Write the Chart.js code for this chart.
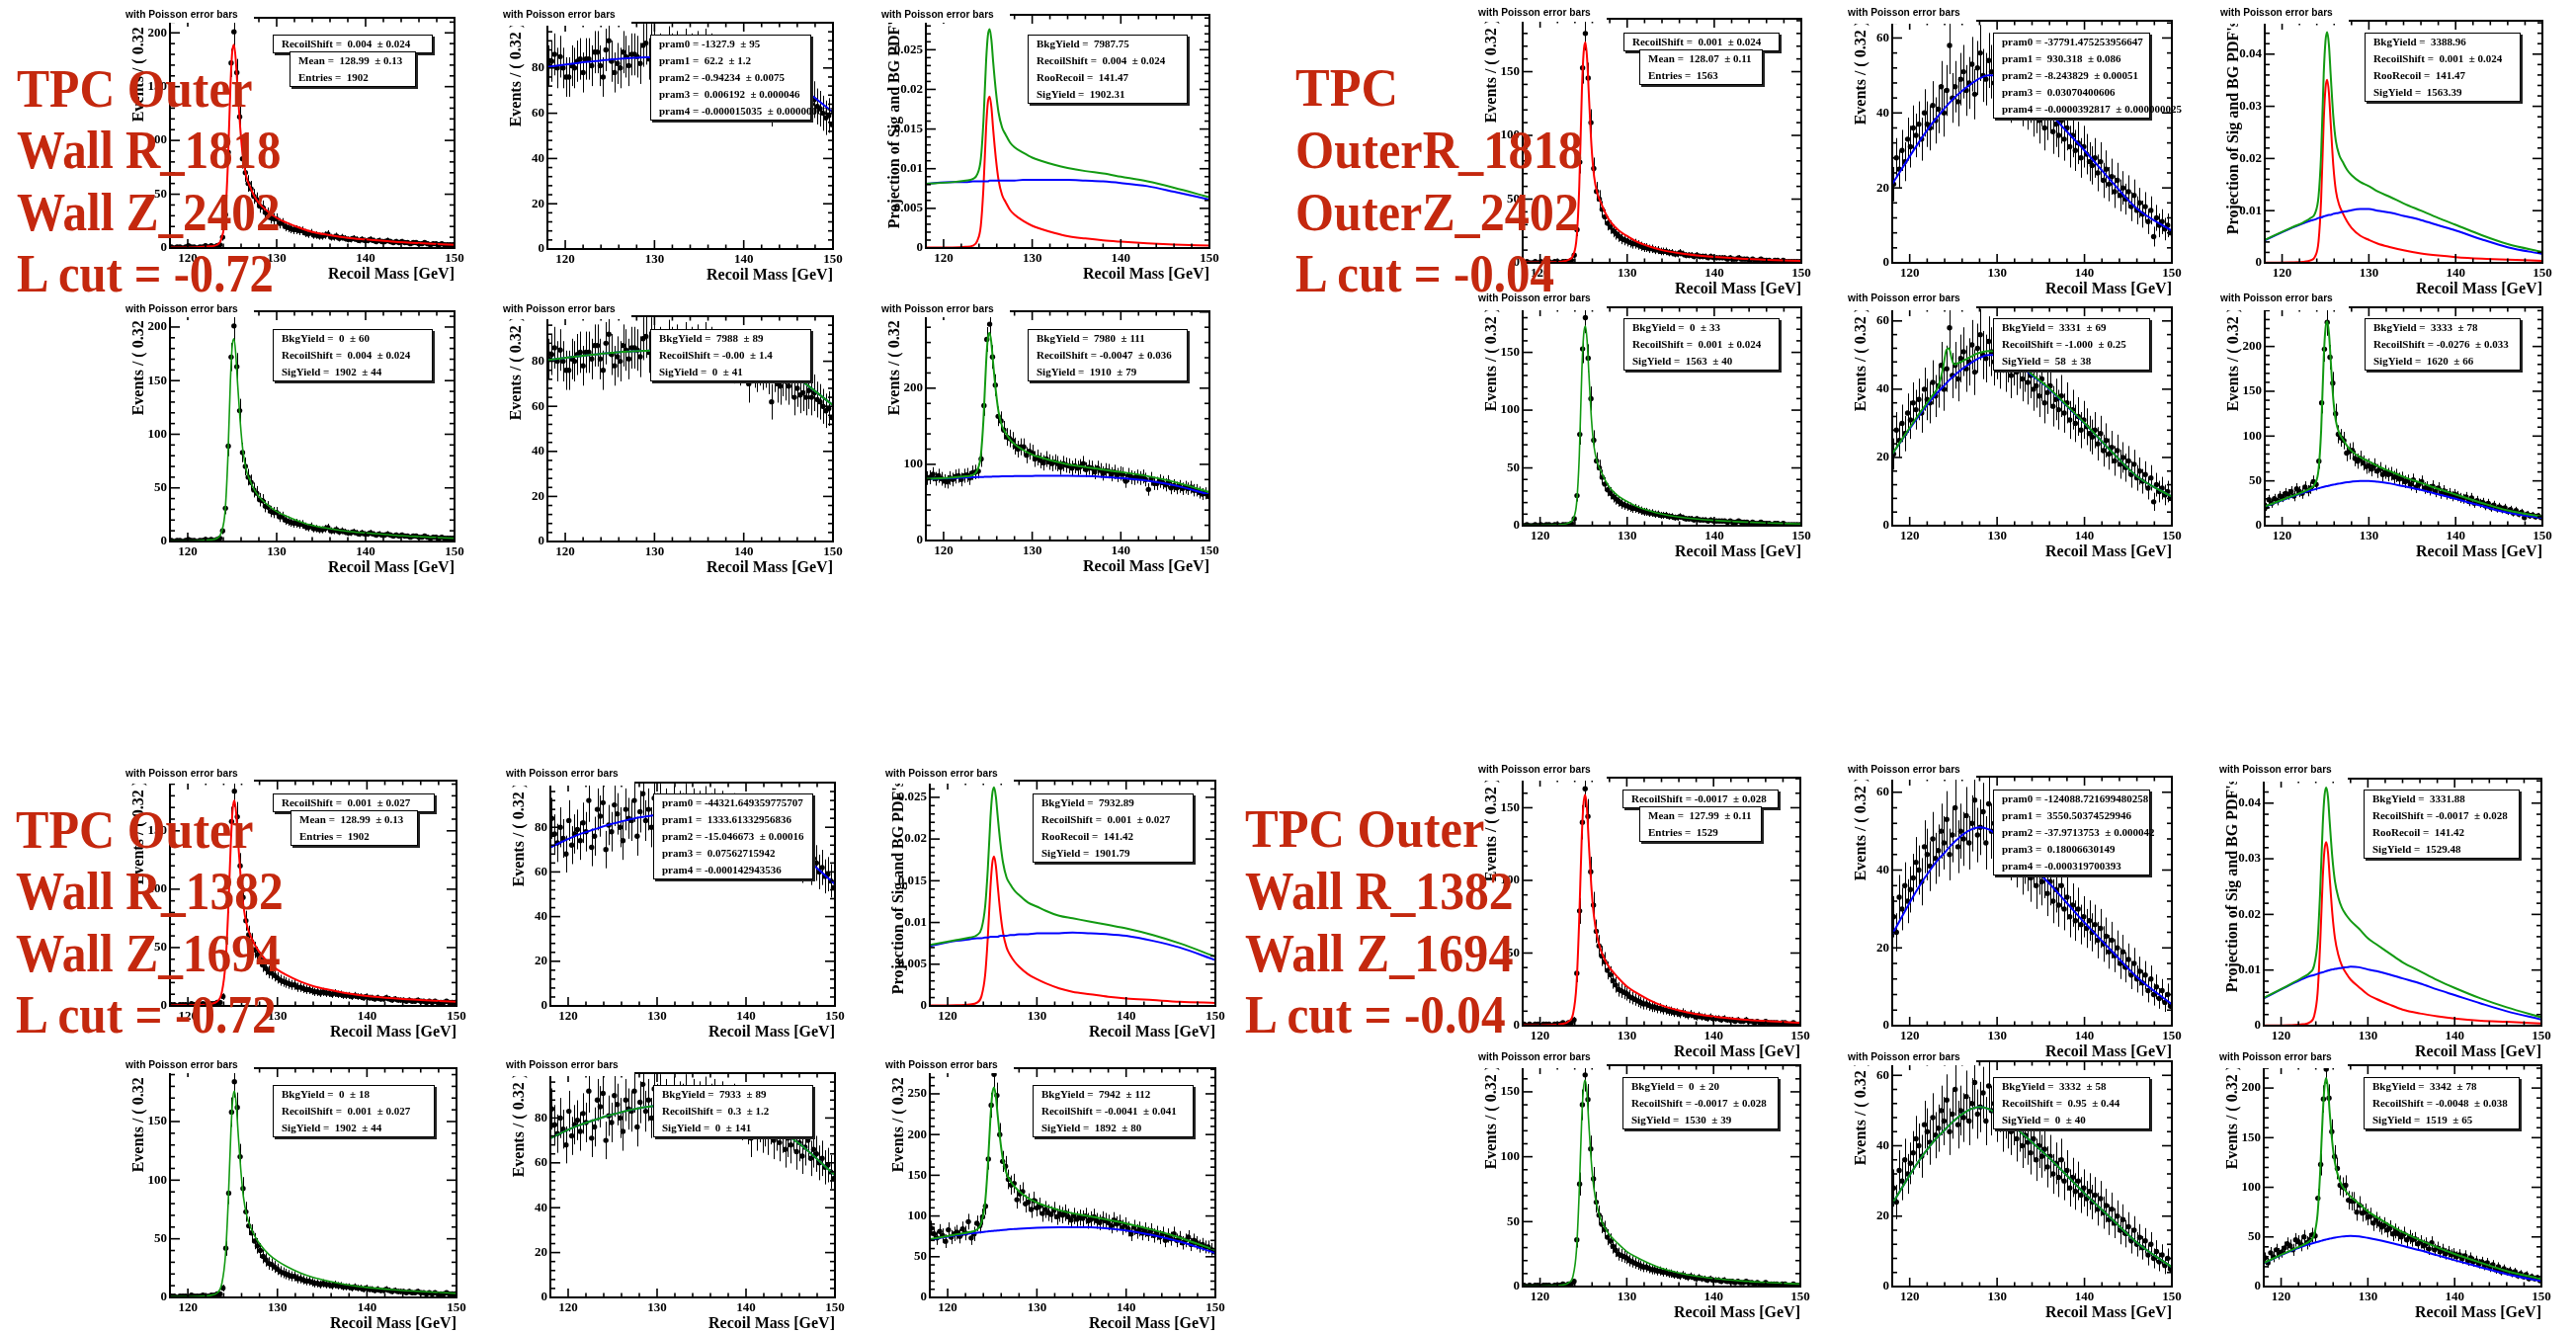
<!DOCTYPE html>
<html><head><meta charset="utf-8">
<script src="https://cdn.jsdelivr.net/npm/chart.js@4.4.1/dist/chart.umd.min.js"></script>
<style>
  body{margin:0;background:#fff;width:2607px;height:1349px;overflow:hidden;position:relative}
  canvas.pad{position:absolute}
  .ttl{position:absolute;background:#fff;font:bold 10.2px "Liberation Sans",Arial,sans-serif;color:#000;white-space:nowrap}
  .ttl span{position:absolute;left:0;top:0;line-height:22px}
  .box{position:absolute;background:#fff;border:1px solid #000;box-shadow:2px 2px 0 #222;font:bold 11px "Liberation Serif",serif;color:#000;white-space:pre}
  .box div{height:17px;line-height:17px;padding-left:8px}
  .big{position:absolute;color:#c4280e;font:bold 54px "Liberation Serif",serif;line-height:54px;white-space:nowrap;transform-origin:0 0}
</style></head><body>
<script>
// ---- binning / axes ----
const BIN_LO = 118, BIN_W = 0.32;
const X_MIN = 118, X_MAX = 150;
const X_LABELS = [120, 130, 140, 150];
// x grid used for all fitted curves
const SX = [118,121,122.5,123.3,123.8,124.2,124.5,124.8,125.0,125.2,125.4,125.6,125.9,126.2,126.6,127,127.5,128,129,130,131,132.5,134,136,138,140,143,146,150];
const ZX = [118, 150], ZY = [0, 0];

// ---- TPC Outer Wall R_1818 / Z_2402, L cut -0.72 ----
const SIG1 = [1,0,1,1,0,1,2,1,1,0,1,1,2,1,2,1, 2,3,10,31, 89,172,201,163,122,83,
  70,60,55,48,45,39,38,33,32,28,27, 27,23,23,20,19,18,17,17,16,16,14,13,14,12,12,11,
  11,12,13,10,10,11,9,10,9,8,8,9,8,7,8,7,7,8,7,6,7,6,6,7,6,5,6,5,6,5,5,4,5,5,4,4,5,4,3,4,4,3,4,3,3,3,3];
const BKG1 = [81,83,86,80,85,80,76,76,81,80,83,84,78,84,84,81,87,87,81,76,88,92,83,78,82,80,87,85,81,86,86,85,82,90,91,84,90,
  88,84,86,85,83,89,86,84,87,85,82,88,85,86,83,87,84,85,88,83,86,84,81,85,83,80,84,82,79,83,78,81,80,70,
  79,77,75,78,76,77,74,62,75,70,69,73,71,69,72,64,68,65,66,64,67,64,66,63,62,60,58,59,55];
const SFIT1 = [0.5,0.7,1.5,3,9,28,75,150,182,189,175,148,112,85,66,57,48,42,34,28,24,19,15,12,9.5,8,6,4.5,3];
const BFIT1 = [80.5,82,82.7,83,83.2,83.4,83.5,83.6,83.7,83.8,83.8,83.9,84,84.1,84.2,84.3,84.4,84.5,84.7,84.8,84.9,85,85,84.5,83.5,82,78.5,72.5,60.5];
const TFIT1 = [81,82.7,84.2,86,92.2,111.4,158.5,233.6,265.7,272.8,258.8,231.9,196,169.1,150.2,141.3,132.4,126.5,118.7,112.8,108.9,104,100,96.5,93,90,84.5,77,63.5];
const PDFR1 = [0.00005,0.00007,0.00015,0.0003,0.0009,0.0028,0.0076,0.0152,0.0184,0.0191,0.0177,0.0149,0.0113,0.0086,0.0067,0.0058,0.0048,0.0042,0.0034,0.0028,0.0024,0.0019,0.0015,0.0012,0.00096,0.0008,0.0006,0.00045,0.0003];
const PDFB1 = [0.0081,0.0083,0.0083,0.0084,0.0084,0.0084,0.0084,0.0084,0.0084,0.0085,0.0085,0.0085,0.0085,0.0085,0.0085,0.0085,0.0085,0.0085,0.0086,0.0086,0.0086,0.0086,0.0086,0.0085,0.0084,0.0082,0.0078,0.0071,0.0061];
const PDFG1 = [0.0081,0.0083,0.0085,0.0087,0.0093,0.0112,0.016,0.0236,0.0268,0.0276,0.0262,0.0234,0.0198,0.0171,0.0152,0.0143,0.0133,0.0127,0.012,0.0114,0.011,0.0105,0.0101,0.0097,0.0094,0.009,0.0084,0.0076,0.0064];

// ---- TPC OuterR_1818 / OuterZ_2402, L cut -0.04 ----
const SIG2 = [0,1,0,0,1,0,1,0,1,1,0,1,1,0,1,1, 1,2,6,26, 79,153,180,145,110,74,
  56,50,42,36,31,28,25,23,21,19,18, 17,16,15,15,14,13,12,12,11,11,10,10,9,9,9,8,
  8,7,7,8,7,6,6,6,5,6,5,5,5,4,5,4,4,4,4,4,3,4,3,3,4,3,3,3,2,3,2,2,3,2,2,2,1,2,2,1,2,1,1,1,1,1,1];
const BKG2 = [21,28,25,30,27,33,31,36,34,37,33,40,37,36,42,38,41,47,40,46,58,44,47,43,49,51,46,48,53,45,52,56,50,49,54,51,48,
  50,47,52,46,49,44,48,45,47,43,46,42,44,40,41,38,43,36,39,41,35,37,34,38,33,36,31,34,30,32,28,31,29,27,
  26,28,24,27,22,25,21,23,19,22,18,20,17,19,15,18,14,16,13,15,11,14,7,12,10,11,9,10,8];
const SFIT2 = [0.3,0.5,1,2.5,6,20,60,135,165,173,160,132,92,68,54,47,39,33,25.5,21,17,13,10,7.5,5.8,4.6,3.3,2.4,1.5];
const BFIT2 = [21,32,37,39.3,40.7,41.8,42.6,43.3,43.8,44.2,44.7,45.1,45.7,46.3,47,47.7,48.5,49.2,50,50,49,47,44,40,35,30,22,14.5,8.5];
const GFIT2 = [21,32.5,37.8,41,46,51.5,52,49,47.5,47.3,47.5,47.7,48,48.4,49,49.5,50.2,50.7,51.2,51,49.7,47.5,44.3,40.2,35.2,30.1,22,14.5,8.5];
const TFIT2 = [21.3,32.5,38,41.9,46.9,62.5,106,188,220,228,215,185,141,116.7,103,96.4,88.9,83.4,76.4,71.8,66.6,60.5,54.4,47.8,41,34.8,25.4,17,10];
const PDFR2 = [0.00006,0.0001,0.0002,0.0005,0.0012,0.0041,0.0122,0.0274,0.0335,0.0351,0.0325,0.0268,0.0187,0.0138,0.011,0.0095,0.0079,0.0067,0.0052,0.0044,0.0037,0.003,0.0024,0.0018,0.0014,0.0011,0.0008,0.0006,0.0004];
const PDFB2 = [0.0043,0.0066,0.0076,0.0081,0.0083,0.0086,0.0087,0.0089,0.009,0.0091,0.0092,0.0092,0.0094,0.0095,0.0096,0.0098,0.0099,0.0101,0.0103,0.0103,0.01,0.0096,0.009,0.0082,0.0072,0.0062,0.0045,0.003,0.0017];
const PDFG2 = [0.0044,0.0067,0.0078,0.0086,0.0095,0.0127,0.0209,0.0363,0.0425,0.0442,0.0417,0.036,0.0281,0.0233,0.0206,0.0193,0.0178,0.0168,0.0155,0.0147,0.0137,0.0126,0.0114,0.01,0.0086,0.0073,0.0053,0.0036,0.0021];

// ---- TPC Outer Wall R_1382 / Z_1694, L cut -0.72 ----
const SIG3 = [1,1,0,1,1,1,0,2,1,1,1,2,1,1,2,2, 3,3,8,42, 89,158,184,162,120,93,
  73,61,55,48,44,40,35,32,29,28,26, 24,22,21,20,19,18,18,16,16,15,14,14,13,12,12,11,
  12,11,11,10,11,10,10,9,9,9,8,9,8,8,7,8,7,7,6,7,6,6,7,6,5,6,5,5,5,4,5,4,4,5,4,4,3,4,3,4,3,3,3,4,3,3,3];
const BKG3 = [84,77,73,80,75,68,83,72,77,79,74,82,78,92,71,76,88,85,91,70,81,78,90,86,80,74,88,84,83,92,76,87,95,83,88,80,93,
  86,90,82,88,85,84,89,83,87,86,90,85,82,88,84,87,85,89,83,86,88,84,82,87,85,83,80,86,82,84,79,81,77,71,
  80,74,78,73,76,72,77,70,74,69,73,66,71,68,74,65,69,63,67,70,62,66,64,60,62,58,59,56,53];
const SFIT3 = [0.5,0.8,1.8,4,12,36,80,140,168,176,165,142,110,86,69,60,52,46,37,31,26.5,21,17,13.5,10.5,8.5,6.5,5,3.5];
const BFIT3 = [71,76.5,78.5,79.5,80.2,80.7,81,81.4,81.6,81.8,82,82.2,82.5,82.8,83.2,83.6,84,84.4,85,85.5,85.9,86.2,86.3,86,84.7,82.3,76.5,68.5,54.5];
const TFIT3 = [71.5,77.3,80.3,83.5,92.2,116.7,161,221.4,249.6,257.8,247,224.2,192.5,168.8,152.2,143.6,136,130.4,122,116.5,112.4,107.2,103.3,99.5,95.2,90.8,83,73.5,58];
const PDFR3 = [0.00005,0.00008,0.00018,0.0004,0.0012,0.0037,0.0082,0.0143,0.0171,0.0179,0.0168,0.0145,0.0112,0.0088,0.007,0.0061,0.0053,0.0047,0.0038,0.0032,0.0027,0.0021,0.0017,0.0014,0.0011,0.0009,0.0007,0.0005,0.00036];
const PDFB3 = [0.0072,0.0078,0.008,0.0081,0.0081,0.0082,0.0082,0.0083,0.0083,0.0083,0.0083,0.0083,0.0084,0.0084,0.0084,0.0085,0.0085,0.0086,0.0086,0.0087,0.0087,0.0087,0.0088,0.0087,0.0086,0.0084,0.0078,0.007,0.0055];
const PDFG3 = [0.0073,0.0079,0.0082,0.0085,0.0093,0.0119,0.0164,0.0226,0.0254,0.0262,0.0251,0.0228,0.0196,0.0172,0.0154,0.0146,0.0138,0.0133,0.0124,0.0119,0.0114,0.0108,0.0105,0.0101,0.0097,0.0093,0.0085,0.0075,0.0059];

// ---- TPC Outer Wall R_1382 / Z_1694, L cut -0.04 ----
const SIG4 = [1,0,1,0,1,1,0,1,1,1,0,1,1,1,2,1, 2,2,4,36, 79,140,163,144,106,83,
  65,55,48,44,38,35,31,28,25,24,23, 22,20,19,18,17,16,15,15,14,13,13,12,12,11,11,10,
  10,9,9,8,9,8,7,8,7,6,7,6,6,5,6,5,5,5,4,5,4,4,4,3,4,3,3,4,3,3,2,3,2,2,3,2,2,2,2,1,2,2,1,1,2,1,1];
const BKG4 = [28,24,33,30,36,32,35,38,42,40,37,46,44,41,48,43,45,50,47,53,44,49,56,46,50,48,54,47,52,58,49,51,55,47,57,50,52,
  48,51,45,49,46,44,47,42,45,40,43,41,38,42,36,40,37,39,34,37,32,35,31,36,30,33,28,31,27,30,26,28,25,27,
  24,26,22,25,21,23,19,22,18,20,16,19,15,17,13,16,12,14,11,13,9,12,8,10,7,9,6,8,5];
const SFIT4 = [0.3,0.5,1.2,3,8,28,70,128,152,159,150,128,97,76,61,52,45,40,33,27,23,18,14,10.5,8,6.3,4.5,3.2,2];
const BFIT4 = [23.5,35.5,40.5,42.8,44,45,45.8,46.5,47,47.4,47.8,48.2,48.8,49.3,49.9,50.4,50.8,51,50.5,49,47.3,44.3,41,36.5,31.5,26.5,19.5,12.5,5.5];
const TFIT4 = [23.8,36,41.7,45.8,52,72.8,115.3,173.6,201,210,199,175.3,145.1,124.8,110.5,102,95.5,90.7,83.3,75.8,70.1,62.2,54.9,46.9,39.4,32.8,24,15.7,7.5];
const PDFR4 = [0.00006,0.0001,0.00025,0.0006,0.0017,0.0058,0.0146,0.0266,0.0316,0.033,0.0312,0.0266,0.0202,0.0158,0.0127,0.0108,0.0094,0.0083,0.0069,0.0056,0.0048,0.0038,0.0029,0.0022,0.0017,0.0013,0.0009,0.0007,0.0004];
const PDFB4 = [0.0049,0.0073,0.0084,0.0089,0.0091,0.0093,0.0095,0.0096,0.0097,0.0098,0.0099,0.01,0.0101,0.0102,0.0103,0.0104,0.0105,0.0106,0.0105,0.0101,0.0098,0.0092,0.0085,0.0076,0.0065,0.0055,0.004,0.0026,0.0011];
const PDFG4 = [0.005,0.0074,0.0087,0.0095,0.0108,0.0151,0.0241,0.0362,0.0413,0.0428,0.0411,0.0366,0.0303,0.026,0.023,0.0212,0.0199,0.0189,0.0174,0.0157,0.0146,0.013,0.0114,0.0098,0.0082,0.0068,0.0049,0.0033,0.0015];

// ---- fit result boxes ----
const BOX1 = [
  [['RecoilShift =  0.004  \u00b1 0.024'], ['Mean =  128.99  \u00b1 0.13', 'Entries =  1902']],
  [['pram0 = -1327.9  \u00b1 95', 'pram1 =  62.2  \u00b1 1.2', 'pram2 = -0.94234  \u00b1 0.0075', 'pram3 =  0.006192  \u00b1 0.000046', 'pram4 = -0.000015035  \u00b1 0.000000029']],
  [['BkgYield =  7987.75', 'RecoilShift =  0.004  \u00b1 0.024', 'RooRecoil =  141.47', 'SigYield =  1902.31']],
  [['BkgYield =  0  \u00b1 60', 'RecoilShift =  0.004  \u00b1 0.024', 'SigYield =  1902  \u00b1 44']],
  [['BkgYield =  7988  \u00b1 89', 'RecoilShift = -0.00  \u00b1 1.4', 'SigYield =  0  \u00b1 41']],
  [['BkgYield =  7980  \u00b1 111', 'RecoilShift = -0.0047  \u00b1 0.036', 'SigYield =  1910  \u00b1 79']]
];
const BOX2 = [
  [['RecoilShift =  0.001  \u00b1 0.024'], ['Mean =  128.07  \u00b1 0.11', 'Entries =  1563']],
  [['pram0 = -37791.475253956647', 'pram1 =  930.318  \u00b1 0.086', 'pram2 = -8.243829  \u00b1 0.00051', 'pram3 =  0.03070400606', 'pram4 = -0.0000392817  \u00b1 0.000000025']],
  [['BkgYield =  3388.96', 'RecoilShift =  0.001  \u00b1 0.024', 'RooRecoil =  141.47', 'SigYield =  1563.39']],
  [['BkgYield =  0  \u00b1 33', 'RecoilShift =  0.001  \u00b1 0.024', 'SigYield =  1563  \u00b1 40']],
  [['BkgYield =  3331  \u00b1 69', 'RecoilShift = -1.000  \u00b1 0.25', 'SigYield =  58  \u00b1 38']],
  [['BkgYield =  3333  \u00b1 78', 'RecoilShift = -0.0276  \u00b1 0.033', 'SigYield =  1620  \u00b1 66']]
];
const BOX3 = [
  [['RecoilShift =  0.001  \u00b1 0.027'], ['Mean =  128.99  \u00b1 0.13', 'Entries =  1902']],
  [['pram0 = -44321.649359775707', 'pram1 =  1333.61332956836', 'pram2 = -15.046673  \u00b1 0.00016', 'pram3 =  0.07562715942', 'pram4 = -0.000142943536']],
  [['BkgYield =  7932.89', 'RecoilShift =  0.001  \u00b1 0.027', 'RooRecoil =  141.42', 'SigYield =  1901.79']],
  [['BkgYield =  0  \u00b1 18', 'RecoilShift =  0.001  \u00b1 0.027', 'SigYield =  1902  \u00b1 44']],
  [['BkgYield =  7933  \u00b1 89', 'RecoilShift =  0.3  \u00b1 1.2', 'SigYield =  0  \u00b1 141']],
  [['BkgYield =  7942  \u00b1 112', 'RecoilShift = -0.0041  \u00b1 0.041', 'SigYield =  1892  \u00b1 80']]
];
const BOX4 = [
  [['RecoilShift = -0.0017  \u00b1 0.028'], ['Mean =  127.99  \u00b1 0.11', 'Entries =  1529']],
  [['pram0 = -124088.721699480258', 'pram1 =  3550.50374529946', 'pram2 = -37.9713753  \u00b1 0.000042', 'pram3 =  0.18006630149', 'pram4 = -0.000319700393']],
  [['BkgYield =  3331.88', 'RecoilShift = -0.0017  \u00b1 0.028', 'RooRecoil =  141.42', 'SigYield =  1529.48']],
  [['BkgYield =  0  \u00b1 20', 'RecoilShift = -0.0017  \u00b1 0.028', 'SigYield =  1530  \u00b1 39']],
  [['BkgYield =  3332  \u00b1 58', 'RecoilShift =  0.95  \u00b1 0.44', 'SigYield =  0  \u00b1 40']],
  [['BkgYield =  3342  \u00b1 78', 'RecoilShift = -0.0048  \u00b1 0.038', 'SigYield =  1519  \u00b1 65']]
];

// pad frames: [left, top, right, bottom, ymax, y label step, title centre y]
const GEOM1 = [[172,18,460,251,214,50,15],[554,23,843,252,100,20,15],[937,15,1224,251,0.0294,0.005,15],
               [172,315,460,548,214.7,50,313],[554,320,843,548,100,20,313],[937,315,1224,547,301,100,313]];
const GEOM2 = [[1541,19,1823,266,191.5,50,13],[1915,21,2198,266,64.6,20,13],[2292,21,2573,266,0.0464,0.01,13],
               [1541,311,1823,532,189,50,302],[1915,311,2198,532,64,20,302],[2292,311,2573,532,243.7,50,302]];
const GEOM3 = [[172,790,462,1018,193,50,783],[557,792,845,1018,100,20,783],[941,790,1230,1018,0.027,0.005,783],
               [172,1081,462,1313,195.5,50,1078],[557,1086,845,1313,100,20,1078],[941,1081,1230,1313,281.5,50,1078]];
const GEOM4 = [[1541,787,1822,1038,170.7,50,779],[1915,786,2198,1038,64,20,779],[2291,788,2572,1038,0.0444,0.01,779],
               [1541,1078,1822,1302,170.5,50,1070],[1915,1074,2198,1302,64,20,1070],[2291,1078,2572,1302,223,50,1070]];

// big red labels
const BIG = [
  {x: 17,   lines: ['TPC Outer', 'Wall R_1818', 'Wall Z_2402', 'L cut = -0.72'], base: [108,170,233,295], w: [238,268,267,260]},
  {x: 1311, lines: ['TPC', 'OuterR_1818', 'OuterZ_2402', 'L cut = -0.04'],     base: [107,170,233,295], w: [104,291,287,262]},
  {x: 16,   lines: ['TPC Outer', 'Wall R_1382', 'Wall Z_1694', 'L cut = -0.72'], base: [858,920,983,1045], w: [240,271,268,264]},
  {x: 1260, lines: ['TPC Outer', 'Wall R_1382', 'Wall Z_1694', 'L cut = -0.04'], base: [857,920,983,1045], w: [242,272,272,264]}
];

const RED = '#ff0000', BLUE = '#0000ff', GREEN = '#129a12';
const YT_EV = 'Events / ( 0.32 )', YT_PDF = "Projection of Sig and BG PDF's";
const PL = 56, PR = 16, PT = 10, PB = 42;

const xy = (xs, ys) => ys.map((v, i) => ({x: xs[i], y: v}));
const hist = vals => vals.map((v, i) => ({x: BIN_LO + BIN_W * (i + 0.5), y: v}));
const curve = (ys, color, w) => ({data: xy(SX, ys), showLine: true, borderColor: color, borderWidth: w || 2,
  pointRadius: 0, cubicInterpolationMode: 'monotone', fill: false, order: 0});
const dots = vals => ({data: hist(vals), showLine: false, pointRadius: 2.7, pointBackgroundColor: '#000',
  pointBorderWidth: 0, errBars: true, order: 1});
const zeroLine = () => ({data: xy(ZX, ZY), showLine: true, borderColor: BLUE, borderWidth: 2, pointRadius: 0, order: 0});

// Poisson error bars under the points
const errBars = {
  id: 'errBars',
  beforeDatasetsDraw(chart) {
    const {ctx, chartArea: a, scales: {x, y}} = chart;
    ctx.save();
    ctx.beginPath(); ctx.rect(a.left, a.top, a.right - a.left, a.bottom - a.top); ctx.clip();
    ctx.strokeStyle = '#000'; ctx.lineWidth = 1;
    chart.data.datasets.forEach(ds => {
      if (!ds.errBars) return;
      ds.data.forEach(pt => {
        const e = Math.sqrt(Math.max(pt.y, 1));
        const px = Math.round(x.getPixelForValue(pt.x)) + 0.5;
        ctx.beginPath();
        ctx.moveTo(px, y.getPixelForValue(Math.max(pt.y - e, 0)));
        ctx.lineTo(px, y.getPixelForValue(pt.y + e));
        ctx.stroke();
      });
    });
    ctx.restore();
  }
};

// ROOT style frame: inward ticks on all four sides, serif labels
const rootAxes = {
  id: 'rootAxes',
  afterDraw(chart, args, o) {
    const {ctx, chartArea: a, scales: {x, y}} = chart;
    const line = (x0, y0, x1, y1) => { ctx.beginPath(); ctx.moveTo(x0, y0); ctx.lineTo(x1, y1); ctx.stroke(); };
    ctx.save();
    ctx.strokeStyle = '#000'; ctx.fillStyle = '#000'; ctx.lineWidth = 1.6;
    const minor = o.step / 5;
    for (let k = 0; k * minor <= o.ymax + 1e-9; k++) {
      const py = y.getPixelForValue(k * minor), len = k % 5 === 0 ? 10 : 5;
      line(a.left, py, a.left + len, py); line(a.right - len, py, a.right, py);
    }
    for (let v = X_MIN; v <= X_MAX; v += 2) {
      const px = x.getPixelForValue(v), len = v % 10 === 0 ? 9 : 4.5;
      line(px, a.bottom, px, a.bottom - len); line(px, a.top, px, a.top + len);
    }
    ctx.lineWidth = 2;
    ctx.strokeRect(a.left, a.top, a.right - a.left, a.bottom - a.top);
    ctx.font = 'bold 13px "Liberation Serif", serif';
    ctx.textAlign = 'right'; ctx.textBaseline = 'middle';
    for (let k = 0; k * o.step <= o.ymax + 1e-9; k++) {
      ctx.fillText(String(+(k * o.step).toFixed(4)), a.left - 3, y.getPixelForValue(k * o.step));
    }
    ctx.textAlign = 'center';
    X_LABELS.forEach(v => ctx.fillText(String(v), x.getPixelForValue(v), a.bottom + 11));
    ctx.font = 'bold 16px "Liberation Serif", serif';
    ctx.textAlign = 'right'; ctx.textBaseline = 'alphabetic';
    ctx.fillText('Recoil Mass [GeV]', a.right, a.bottom + 31);
    ctx.translate(a.left - 31, a.top); ctx.rotate(-Math.PI / 2);
    ctx.textBaseline = 'middle';
    ctx.fillText(o.ytitle, 0, 0);
    ctx.restore();
  }
};

function makePad(g, ytitle, sets) {
  const [l, t, r, b, ymax, step] = g;
  const cv = document.createElement('canvas');
  cv.className = 'pad';
  cv.width = r - l + PL + PR; cv.height = b - t + PT + PB;
  cv.style.left = (l - PL) + 'px'; cv.style.top = (t - PT) + 'px';
  cv.style.width = cv.width + 'px'; cv.style.height = cv.height + 'px';
  document.body.appendChild(cv);
  new Chart(cv, {
    type: 'scatter',
    data: {datasets: sets},
    options: {
      responsive: false, animation: false, events: [],
      layout: {padding: {left: PL, right: PR, top: PT, bottom: PB}},
      plugins: {legend: {display: false}, tooltip: {enabled: false}, rootAxes: {ymax, step, ytitle}},
      scales: {x: {type: 'linear', min: X_MIN, max: X_MAX, display: false},
               y: {type: 'linear', min: 0, max: ymax, display: false}}
    },
    plugins: [errBars, rootAxes]
  });
}

function addTitle(g) {
  const [l, t, , , , , ty] = g;
  const d = document.createElement('div');
  d.className = 'ttl';
  const top = ty - 11, bot = Math.max(ty + 8, t + 3);
  d.style.left = (l - 45) + 'px'; d.style.top = top + 'px';
  d.style.width = '130px'; d.style.height = (bot - top) + 'px';
  d.innerHTML = '<span>with Poisson error bars</span>';
  document.body.appendChild(d);
}

function addBox(x0, x1, top, lines) {
  const d = document.createElement('div');
  d.className = 'box';
  d.style.left = Math.round(x0) + 'px'; d.style.top = top + 'px';
  d.style.width = Math.round(x1 - x0 - 2) + 'px'; d.style.height = (lines.length * 17) + 'px';
  lines.forEach(s => { const row = document.createElement('div'); row.textContent = s; d.appendChild(row); });
  document.body.appendChild(d);
}

const GROUPS = [
  {geom: GEOM1, box: BOX1, sig: SIG1, bkg: BKG1, sfit: SFIT1, bfit: BFIT1, gfit: BFIT1, tfit: TFIT1, pr: PDFR1, pb: PDFB1, pg: PDFG1},
  {geom: GEOM2, box: BOX2, sig: SIG2, bkg: BKG2, sfit: SFIT2, bfit: BFIT2, gfit: GFIT2, tfit: TFIT2, pr: PDFR2, pb: PDFB2, pg: PDFG2},
  {geom: GEOM3, box: BOX3, sig: SIG3, bkg: BKG3, sfit: SFIT3, bfit: BFIT3, gfit: BFIT3, tfit: TFIT3, pr: PDFR3, pb: PDFB3, pg: PDFG3},
  {geom: GEOM4, box: BOX4, sig: SIG4, bkg: BKG4, sfit: SFIT4, bfit: BFIT4, gfit: BFIT4, tfit: TFIT4, pr: PDFR4, pb: PDFB4, pg: PDFG4}
];

GROUPS.forEach(G => {
  const comb = G.sig.map((v, i) => v + G.bkg[i]);
  const [g1, g2, g3, g4, g5, g6] = G.geom;
  makePad(g1, YT_EV, [curve(G.sfit, RED), dots(G.sig)]);
  makePad(g2, YT_EV, [curve(G.bfit, BLUE), dots(G.bkg)]);
  makePad(g3, YT_PDF, [curve(G.pg, GREEN), curve(G.pb, BLUE), curve(G.pr, RED)]);
  makePad(g4, YT_EV, [curve(G.sfit, GREEN, 1.6), zeroLine(), dots(G.sig)]);
  makePad(g5, YT_EV, [curve(G.gfit, GREEN), curve(G.bfit, BLUE), dots(G.bkg)]);
  makePad(g6, YT_EV, [curve(G.tfit, GREEN), curve(G.bfit, BLUE), dots(comb)]);
});

GROUPS.forEach(G => {
  G.geom.forEach((g, k) => {
    const [l, , r, , , , ty] = g, W = r - l;
    addTitle(g);
    if (k === 0) {
      addBox(l + 0.36 * W, r - 22, ty + 20, G.box[0][0]);
      addBox(l + 0.42 * W, r - 39, ty + 37, G.box[0][1]);
    } else {
      addBox(l + 0.36 * W, r - 22, ty + 20, G.box[k][0]);
    }
  });
});

BIG.forEach(B => B.lines.forEach((txt, i) => {
  const d = document.createElement('div');
  d.className = 'big';
  d.textContent = txt;
  d.style.left = B.x + 'px';
  d.style.top = (B.base[i] - 0.8375 * 54) + 'px';
  document.body.appendChild(d);
  d.style.transform = 'scaleX(' + (B.w[i] / d.offsetWidth).toFixed(3) + ')';
}));
</script>
</body></html>
